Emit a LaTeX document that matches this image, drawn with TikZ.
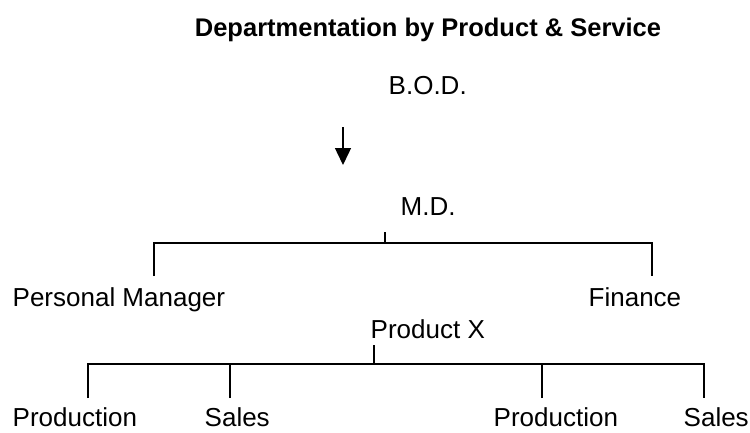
\documentclass[tikz,border=0pt]{standalone}
\usepackage{fontspec}
\setmainfont{Liberation Sans}
\usetikzlibrary{arrows.meta}

\begin{document}
\begin{tikzpicture}[x=1pt,y=1pt,>={Triangle[length=17pt,width=16pt]},line width=1.4pt,
  lbl/.style={inner sep=0pt,anchor=base west,font=\fontsize{26}{30}\selectfont}]
  \useasboundingbox (0,0) rectangle (750,-432);

  \coordinate (A) at (343,-127); % arrow top
  \coordinate (B) at (343,-165); % arrow tip
  \coordinate (C) at (385,-232);
  \coordinate (D) at (385,-243);
  \coordinate (E) at (154,-276);
  \coordinate (F) at (652,-276);
  \coordinate (G) at (374,-345);
  \coordinate (H) at (374,-364);
  \coordinate (I) at (88,-398);
  \coordinate (J) at (230,-398);
  \coordinate (K) at (542,-398);
  \coordinate (L) at (704,-398);

  % Labels
  \node[inner sep=0pt,anchor=base,font=\bfseries\fontsize{25.5}{30}\selectfont] (title) at (428,-36) {Departmentation by Product \& Service};
  \node[lbl] (bod) at (388,-94) {B.O.D.};
  \node[lbl] (md) at (400,-215) {M.D.};
  \node[lbl] (pm) at (12,-306) {Personal Manager};
  \node[lbl] (fin) at (588,-306) {Finance};
  \node[lbl] (prodx) at (370,-338) {Product X};
  \node[lbl] (prodA) at (12,-426) {Production};
  \node[lbl] (salesA) at (204,-426) {Sales};
  \node[lbl] (prodB) at (493,-426) {Production};
  \node[lbl] (salesB) at (683,-426) {Sales};

  % Lines
  \draw[->] (A) -- (B);
  \draw (C) -- (D);
  \draw (E) |- (D) -| (F);
  \draw (G) -- (H);
  \draw (I) |- (H) -| (L);
  \draw (J) -- (J |- H);
  \draw (K) -- (K |- H);
\end{tikzpicture}
\end{document}
